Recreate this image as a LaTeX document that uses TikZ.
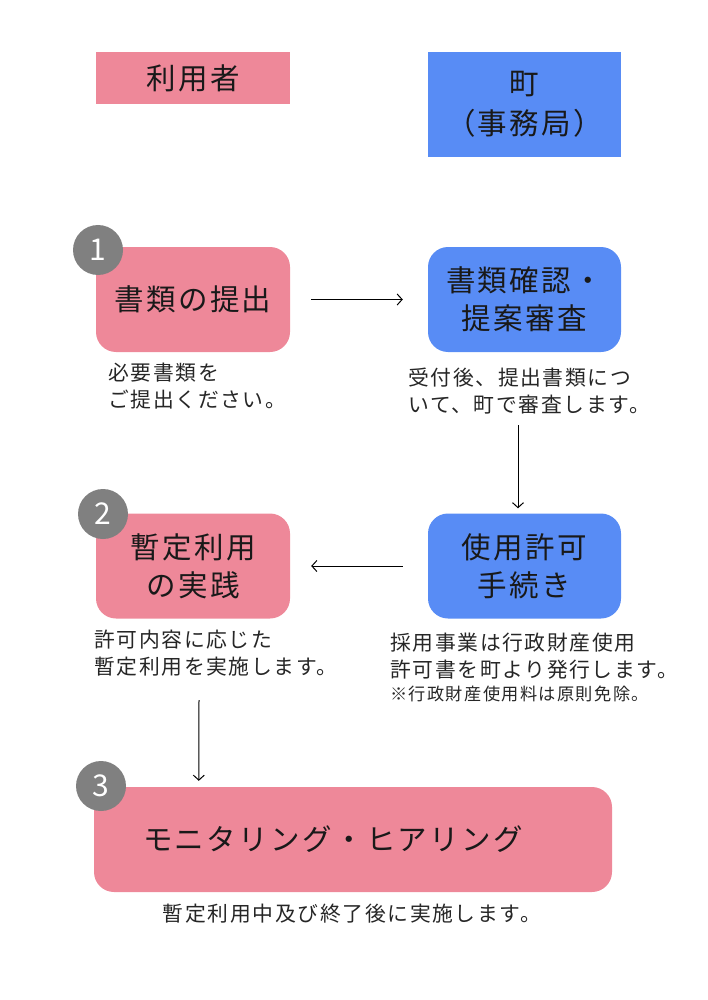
\documentclass[tikz,border=0pt]{standalone}
\usepackage{fontspec}
\setmainfont{Noto Sans CJK JP}[LetterSpace=8]
\usetikzlibrary{arrows.meta}
\definecolor{userpink}{RGB}{238,136,153}
\definecolor{townblue}{RGB}{88,140,245}
\definecolor{numgray}{RGB}{128,128,128}
\begin{document}
\begin{tikzpicture}[x=1pt,y=-1pt]
\tikzstyle{big}=[font=\fontsize{29.5}{38}\selectfont,text=black!90,align=center]
\tikzstyle{pb}=[big,fill=userpink,rounded corners=20pt,minimum width=194pt,minimum height=105pt,inner sep=0pt]
\tikzstyle{bb}=[pb,fill=townblue,minimum width=193pt]
\tikzstyle{num}=[circle,fill=numgray,minimum size=50pt,inner sep=0pt,text=white,font=\fontsize{30}{30}\selectfont]
\tikzstyle{desc}=[font=\fontsize{20.8}{27}\selectfont,text=black!85,align=left,inner sep=0pt]
\tikzstyle{arr}=[-{Straight Barb[length=5pt,width=11pt]},line width=1pt]
\useasboundingbox (0,0) rectangle (707,1000);

% headers
\node[big,fill=userpink,minimum width=194pt,minimum height=52pt,inner sep=0pt] (user) at (193,78) {利用者};
\node[bb,rounded corners=0pt,font=\fontsize{29.5}{40}\selectfont] (town) at (524.5,104.5) {町\\（事務局）};

% step 1
\node[pb] (b1) at (193,299.5) {書類の提出};
\node[num] (n1) at (98,250) {1};
\node[desc,anchor=west] (d1) at (108,386.5) {必要書類を\\ご提出ください。};

\node[bb] (r1) at (524.5,299.5) {書類確認・\\提案審査};
\node[desc,anchor=west] (dr1) at (408,391) {受付後、提出書類につ\\いて、町で審査します。};

% step 2
\node[bb] (r2) at (524.5,566) {使用許可\\手続き};
\node[desc,anchor=west] (dr2) at (390,656.5) {採用事業は行政財産使用\\許可書を町より発行します。};
\node[desc,anchor=west,font=\fontsize{17.2}{20}\selectfont] (nt2) at (390,694) {※行政財産使用料は原則免除。};

\node[pb] (b2) at (193,566) {暫定利用\\の実践};
\node[num] (n2) at (103,514) {2};
\node[desc,anchor=west] (d2) at (94,653) {許可内容に応じた\\暫定利用を実施します。};

% step 3
\node[pb,minimum width=518pt] (b3) at (353,839.5) {モニタリング・ヒアリング\hspace{40pt}};
\node[num] (n3) at (101,786) {3};
\node[desc,anchor=center] (d3) at (352,914) {暫定利用中及び終了後に実施します。};

% arrows
\draw[arr] ([xshift=21pt]b1.east) -- ([xshift=-25pt]r1.west);
\draw[arr] ([xshift=-6.5pt,yshift=-73pt]r1.south) -- ([xshift=-6.5pt,yshift=5pt]r2.north);
\draw[arr] ([xshift=-25pt]r2.west) -- ([xshift=21pt]b2.east);
\draw[arr] ([xshift=6pt,yshift=-81.5pt]b2.south) -- ([xshift=105pt,yshift=6pt]b3.north west);
\end{tikzpicture}
\end{document}
